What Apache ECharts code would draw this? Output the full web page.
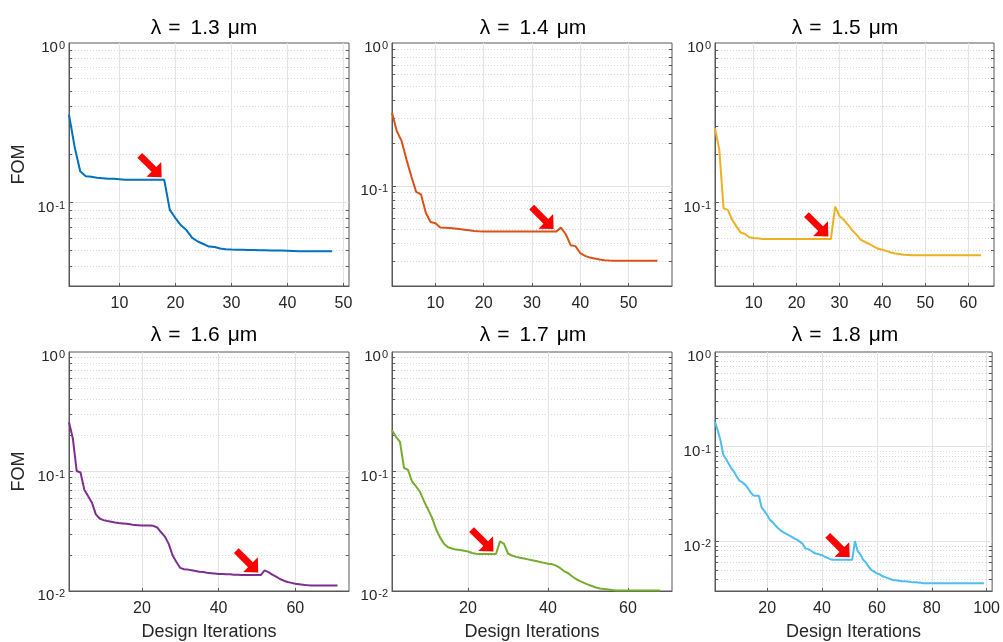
<!DOCTYPE html>
<html>
<head>
<meta charset="utf-8">
<script src="https://cdn.jsdelivr.net/npm/echarts@6/dist/echarts.min.js"></script>
<style>html,body{margin:0;padding:0;background:#fff}#c{width:1003px;height:642px}</style>
</head>
<body>
<div id="c"></div>
<script>
// ---------------- data ----------------
const titles = ['λ = 1.3 μm', 'λ = 1.4 μm', 'λ = 1.5 μm', 'λ = 1.6 μm', 'λ = 1.7 μm', 'λ = 1.8 μm'];
const yAxisName = 'FOM';
const xAxisName = 'Design Iterations';

const fom13 = [0.355,0.224,0.157,0.146,0.145,0.143,0.142,0.141,0.141,0.140,
  0.139,0.139,0.139,0.139,0.139,0.139,0.139,0.139,
  0.090,0.080,0.072,0.067,0.060,0.057,0.055,0.053,0.0527,0.0515,0.051,
  0.0508,0.0507,0.0506,0.0505,0.0504,0.0503,0.0502,0.0501,0.0500,0.0500,0.0499,0.0498,0.0496,
  0.0495,0.0495,0.0495,0.0495,0.0495,0.0495];
const fom14 = [0.325,0.242,0.206,0.153,0.117,0.091,0.0875,0.065,0.056,0.055,0.0512,
  0.051,0.0508,0.0505,0.050,0.0495,0.049,0.0485,0.0482,
  0.048,0.048,0.048,0.048,0.048,0.048,0.048,0.048,0.048,0.048,0.048,0.048,0.048,0.048,0.048,0.048,
  0.0512,0.046,0.0386,0.038,0.0339,0.0325,0.0316,0.0311,0.0306,0.0303,0.0301,
  0.030,0.030,0.030,0.030,0.030,0.030,0.030,0.030,0.030,0.030];
const fom15 = [0.293,0.214,0.092,0.090,0.078,0.0707,0.0648,0.0636,0.0606,0.060,0.0597,
  0.0591,0.0591,0.0591,0.0591,0.0591,0.0591,0.0591,0.0591,0.0591,0.0591,0.0591,0.0591,0.0591,0.0591,0.0591,0.0591,0.0591,
  0.0944,0.0824,0.078,0.0724,0.067,0.0627,0.0583,0.0566,0.055,0.053,0.0514,0.0506,0.0496,0.0487,0.048,0.0476,0.0471,0.0469,
  0.0467,0.0467,0.0467,0.0467,0.0467,0.0467,0.0467,0.0467,0.0467,0.0467,0.0467,0.0467,0.0467,0.0467,0.0467,0.0467,0.0467];
const fom16 = [0.259,0.189,0.101,0.098,0.0705,0.062,0.0547,0.0438,0.0404,0.0392,
  0.0385,0.038,0.0375,0.0371,0.0368,0.0365,0.0362,0.0356,0.0355,0.0354,
  0.0354,0.0353,0.0351,0.034,0.031,0.0285,0.0248,0.0199,0.0175,0.0156,
  0.0152,0.0151,0.0149,0.0147,0.0145,0.0144,0.0142,0.0141,0.0140,0.0139,
  0.0139,0.0138,0.0138,0.0137,0.0137,
  0.0136,0.0136,0.0136,0.0136,0.0136,0.0136,
  0.0149,0.0144,0.0137,0.0132,0.0126,0.0122,0.0119,0.0117,0.0115,0.0114,0.0113,0.0112,
  0.0111,0.0111,0.0111,0.0111,0.0111,0.0111,0.0111,0.0111];
const fom17 = [0.221,0.195,0.177,0.107,0.103,0.0827,0.0752,0.0675,0.0565,0.0482,
  0.0411,0.033,0.0281,0.0248,0.0232,0.0227,0.0222,0.022,0.0217,0.0214,
  0.0208,0.0205,0.0204,0.0204,0.0204,0.0204,0.0204,
  0.026,0.0248,0.0206,0.0198,0.0193,0.019,0.0187,0.0184,0.0181,0.0178,0.0175,0.0172,0.0169,
  0.0168,0.0163,0.0156,0.0147,0.0141,0.0133,0.0126,0.0121,0.0117,0.0113,0.0110,0.0107,0.0105,0.0104,0.0103,0.0102,
  0.0101,0.0101,0.0101,0.0101,0.0101,0.0101,0.0101,0.0101,0.0101,0.0101,0.0101,0.0101];
const fom18 = [0.182,0.149,0.117,0.083,0.074,0.066,0.059,0.054,0.048,0.0435,
  0.042,0.0398,0.0365,0.033,0.0305,0.0304,0.0303,0.0228,0.021,0.019,
  0.0169,0.016,0.0148,0.0138,0.013,0.0125,0.012,0.0116,0.0112,0.0107,
  0.0104,0.0099,0.0094,0.0084,0.0083,0.008,0.0076,0.0074,0.0073,0.0072,
  0.0069,0.0067,0.0065,
  0.0064,0.0064,0.0064,0.0064,0.0064,0.0064,0.0064,0.0064,
  0.0101,0.0079,0.0073,0.0064,0.006,0.0054,0.005,0.0048,0.0046,
  0.0045,0.0043,0.0042,0.0041,0.004,0.0039,0.0039,0.00385,0.0038,0.0038,
  0.00378,0.00375,0.0037,0.0037,0.00368,0.00366,
  0.00363,0.00363,0.00363,0.00363,0.00363,0.00363,0.00363,0.00363,0.00363,0.00363,
  0.00363,0.00363,0.00363,0.00363,0.00363,0.00363,0.00363,0.00363,0.00363,0.00363,
  0.00363,0.00363,0.00363];
const fomSeries = [fom13, fom14, fom15, fom16, fom17, fom18];

const xMax = [51, 59, 66, 74, 71, 102];
const xTicks = [[10,20,30,40,50],[10,20,30,40,50],[10,20,30,40,50,60],[20,40,60],[20,40,60],[20,40,60,80,100]];
const yMin = [0.03, 0.02, 0.03, 0.01, 0.01, 0.003];
const yLabelTicks = [[0.1,1],[0.1,1],[0.1,1],[0.01,0.1,1],[0.01,0.1,1],[0.01,0.1,1]];
const arrowAt = [18, 35, 28, 51, 27, 51];   // iteration the red arrow points to

// ---------------- style / layout ----------------
const colors = ['#0072BD','#D95319','#EDB120','#7E2F8E','#77AC30','#4DBEEE'];
const gridRects = [[69,43,280,243],[392,43,280,243],[715,43,279,243],[69,352,280,242],[392,352,280,242],[715,352,279,242]];
const titleCenters = [204, 533, 845];
const FONT = '"Liberation Sans", Arial, Helvetica, sans-serif';
const AX = '#595959';
const TXT = '#262626';

function minorValues(min) {
  const out = [];
  for (let d = Math.floor(Math.log10(min) + 1e-9); d < 0; d++) {
    for (let k = 2; k <= 9; k++) {
      const v = parseFloat((k * Math.pow(10, d)).toPrecision(3));
      if (v > min * 1.0001 && v < 1) out.push(v);
    }
  }
  return out;
}

const chart = echarts.init(document.getElementById('c'), null, {renderer: 'canvas', width: 1003, height: 642});
const grids = [], xAxes = [], yAxes = [], series = [], titleList = [];

for (let i = 0; i < 6; i++) {
  const [l, t, w, h] = gridRects[i];
  const bottomRow = i >= 3;
  grids.push({left: l, top: t, width: w, height: h, show: true, borderColor: AX, borderWidth: 1, backgroundColor: '#fff'});

  const parts = titles[i].split(' ');
  const tokenBase = {fontFamily: FONT, fontSize: 21, fontWeight: 'normal', color: '#000', lineHeight: 21};
  titleList.push({
    text: '{a|' + parts[0] + '}{g1| }{a|' + parts[1] + '}{g2| }{a|' + parts[2] + '}{g3| }{a|' + parts[3] + '}',
    left: titleCenters[i % 3], top: bottomRow ? 325 : 18, textAlign: 'center', padding: 0,
    textStyle: {fontWeight: 'normal', fontSize: 21, fontFamily: FONT, rich: {
      a: tokenBase,
      g1: Object.assign({}, tokenBase, {width: 7}),
      g2: Object.assign({}, tokenBase, {width: 10}),
      g3: Object.assign({}, tokenBase, {width: 8})
    }}
  });

  xAxes.push({
    type: 'value', gridIndex: i, min: 1, max: xMax[i],
    name: bottomRow ? xAxisName : '', nameLocation: 'middle', nameGap: 32,
    nameTextStyle: {fontFamily: FONT, fontSize: 18, color: TXT},
    axisLine: {show: true, onZero: false, lineStyle: {color: AX, width: 1}},
    axisTick: {show: true, inside: true, length: 3, customValues: xTicks[i], lineStyle: {color: AX}},
    axisLabel: {customValues: xTicks[i], fontFamily: FONT, fontSize: 16, color: TXT, margin: 10},
    splitLine: {show: true, lineStyle: {color: '#e3e3e3', width: 1}}
  });

  const minors = minorValues(yMin[i]);
  const majorsInner = yLabelTicks[i].filter(v => v > yMin[i] * 1.0001 && v < 1);
  const yBase = {type: 'log', logBase: 10, gridIndex: i, min: yMin[i], max: 1};
  // major axis with labels
  yAxes.push(Object.assign({}, yBase, {
    position: 'left',
    name: (i % 3 === 0) ? yAxisName : '', nameLocation: 'middle', nameGap: 41, nameRotate: 90,
    nameTextStyle: {fontFamily: FONT, fontSize: 18, color: TXT},
    axisLine: {show: true, lineStyle: {color: AX, width: 1}},
    axisTick: {show: true, inside: true, length: 4, customValues: majorsInner, lineStyle: {color: AX}},
    axisLabel: {
      customValues: yLabelTicks[i], margin: 4, showMinLabel: true, showMaxLabel: true,
      formatter: v => '{b|10}{s|' + Math.round(Math.log10(v)) + '}',
      rich: {
        b: {fontFamily: FONT, fontSize: 15, color: TXT, lineHeight: 15, padding: [10, 0, 0, 0]},
        s: {fontFamily: FONT, fontSize: 11, color: TXT, lineHeight: 11, verticalAlign: 'top', padding: [5, 0, 0, 1]}
      }
    },
    splitLine: {show: true, lineStyle: {color: '#e3e3e3', width: 1}}
  }));
  // minor grid (dotted) + right-side minor ticks
  yAxes.push(Object.assign({}, yBase, {
    position: 'right',
    axisLine: {show: false},
    axisTick: {show: true, inside: true, length: 3, customValues: minors, lineStyle: {color: AX}},
    axisLabel: {show: false},
    splitLine: {show: true, lineStyle: {color: '#d6d6d6', width: 1, type: [1, 2]}}
  }));
  // left-side minor ticks
  yAxes.push(Object.assign({}, yBase, {
    position: 'left',
    axisLine: {show: false},
    axisTick: {show: true, inside: true, length: 3, customValues: minors, lineStyle: {color: AX}},
    axisLabel: {show: false},
    splitLine: {show: false}
  }));

  const vals = fomSeries[i];
  series.push({
    type: 'line', xAxisIndex: i, yAxisIndex: 3 * i,
    data: vals.map((v, k) => [k + 1, v]),
    showSymbol: false, symbol: 'none', z: 3, silent: true, animation: false,
    lineStyle: {width: 2, color: colors[i]}, itemStyle: {color: colors[i]},
    markPoint: {
      silent: true, animation: false,
      symbol: 'path://M0,7 L20,7 L20,0 L31,10.4 L20,20.8 L20,13.8 L0,13.8 Z',
      symbolSize: [31, 20.8], symbolRotate: -45, symbolOffset: [-13.5, -13.5],
      itemStyle: {color: '#ff0000'}, label: {show: false},
      data: [{coord: [arrowAt[i], vals[arrowAt[i] - 1]]}]
    }
  });
}

chart.setOption({
  animation: false,
  backgroundColor: '#fff',
  title: titleList,
  grid: grids,
  xAxis: xAxes,
  yAxis: yAxes,
  series: series
});
</script>
</body>
</html>
